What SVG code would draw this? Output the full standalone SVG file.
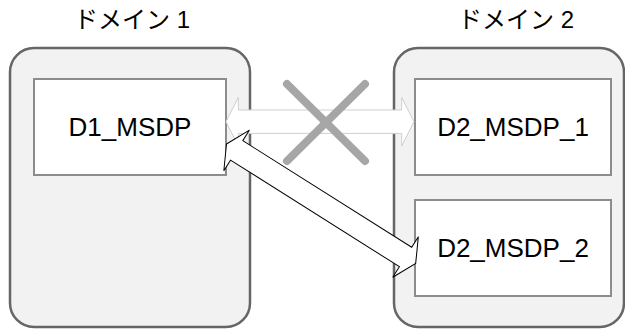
<svg xmlns="http://www.w3.org/2000/svg" width="625" height="329" viewBox="0 0 625 329">
<style>
.domain{fill:#f2f2f2;stroke:#666666;stroke-width:2.5}
.box{fill:#ffffff;stroke:#8c8c8c;stroke-width:2}
.title{font-family:"Liberation Sans","Noto Sans CJK JP",sans-serif;font-size:24px;fill:#000000;text-anchor:middle}
.label{font-family:"Liberation Sans",Arial,sans-serif;font-size:26px;fill:#000000;text-anchor:middle}
.blocked{fill:#ffffff;stroke:#cfcfcf;stroke-width:1}
.flow{fill:#ffffff;stroke:#000000;stroke-width:1}
.cross{stroke:#a6a6a6;stroke-width:8;stroke-linecap:round;fill:none}
</style>
<rect width="625" height="329" fill="#ffffff"/>
<g id="domain1">
<rect class="domain" x="10" y="48" width="240" height="279" rx="24" ry="24"/>
<text class="title" x="132" y="28">ドメイン 1</text>
</g>
<g id="domain2">
<rect class="domain" x="394" y="48" width="230" height="279" rx="24" ry="24"/>
<text class="title" x="516" y="28">ドメイン 2</text>
</g>
<g id="d1_msdp">
<rect class="box" x="34" y="79" width="192" height="96"/>
<text class="label" x="130" y="136">D1_MSDP</text>
</g>
<g id="d2_msdp_1">
<rect class="box" x="415" y="79" width="196" height="96"/>
<text class="label" x="513" y="136">D2_MSDP_1</text>
</g>
<g id="d2_msdp_2">
<rect class="box" x="415" y="200" width="196" height="96"/>
<text class="label" x="513" y="257">D2_MSDP_2</text>
</g>
<g id="connectors">
<polygon class="blocked" points="226,121.7 238.3,97.4 238.3,110 401.7,110 401.7,97.4 414,121.7 401.7,146 401.7,133.4 238.3,133.4 238.3,146"/>
<g class="cross-mark">
<line class="cross" x1="287" y1="84" x2="365" y2="161"/>
<line class="cross" x1="365" y1="84" x2="287" y2="161"/>
</g>
<polygon class="flow" transform="translate(226.5,144) rotate(32.25)" points="0,0 12,-24 12,-11.5 211.7,-11.5 211.7,-24 223.7,0 211.7,24 211.7,11.5 12,11.5 12,24"/>
</g>
</svg>
